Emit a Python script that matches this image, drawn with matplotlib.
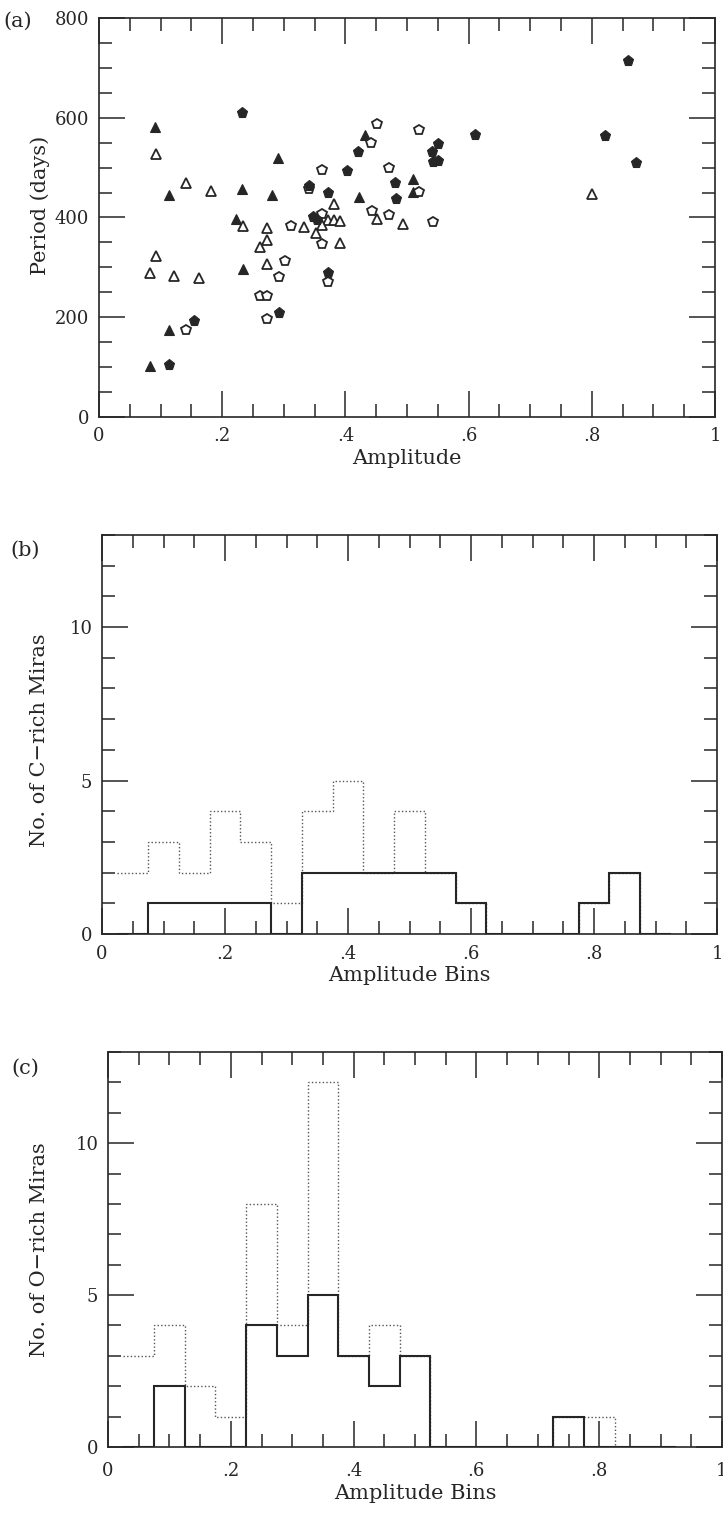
import numpy as np
import matplotlib
matplotlib.use("Agg")
import matplotlib.pyplot as plt
from matplotlib.ticker import MultipleLocator

# ---------------- data ----------------
# Panel (a): amplitude vs period, four classes of stars
ft_amp = [0.091, 0.291, 0.113, 0.232, 0.281, 0.222, 0.233, 0.114, 0.083, 0.510, 0.422, 0.432, 0.510]
ft_per = [581, 519, 445, 458, 445, 396, 297, 174, 102, 478, 442, 565, 452]

ot_amp = [0.092, 0.142, 0.182, 0.233, 0.272, 0.332, 0.272, 0.262, 0.093, 0.083, 0.122, 0.163,
          0.272, 0.382, 0.371, 0.382, 0.392, 0.362, 0.352, 0.392, 0.452, 0.493, 0.801]
ot_per = [527, 469, 453, 383, 378, 380, 354, 340, 323, 289, 283, 279,
          306, 427, 395, 395, 393, 385, 368, 348, 396, 387, 447]

op_amp = [0.312, 0.302, 0.292, 0.262, 0.273, 0.272, 0.142, 0.362, 0.470, 0.362, 0.362, 0.443,
          0.471, 0.372, 0.451, 0.441, 0.520, 0.520, 0.542, 0.341]
op_per = [383, 313, 280, 243, 243, 196, 174, 495, 499, 408, 346, 413,
          406, 271, 588, 550, 575, 452, 390, 458]

fp_amp = [0.232, 0.292, 0.154, 0.114, 0.421, 0.402, 0.341, 0.481, 0.372, 0.482, 0.348, 0.354,
          0.372, 0.610, 0.551, 0.541, 0.542, 0.551, 0.859, 0.821, 0.871]
fp_per = [609, 209, 192, 104, 531, 493, 464, 469, 449, 437, 400, 394,
          289, 565, 547, 531, 512, 513, 714, 563, 509]

# Panels (b), (c): histograms, bins of width 0.05 centred on these amplitudes
bin_centers = [0.05, 0.10, 0.15, 0.20, 0.25, 0.30, 0.35, 0.40, 0.45,
               0.50, 0.55, 0.60, 0.65, 0.70, 0.75, 0.80, 0.85, 0.90]
c_all   = [2, 3, 2, 4, 3, 1, 4, 5, 2, 4, 2, 1, 0, 0, 0, 1, 2, 0]
c_sub   = [0, 1, 1, 1, 1, 0, 2, 2, 2, 2, 2, 1, 0, 0, 0, 1, 2, 0]
o_all   = [3, 4, 2, 1, 8, 4, 12, 3, 4, 3, 0, 0, 0, 0, 1, 1, 0, 0]
o_sub   = [0, 2, 0, 0, 4, 3, 5, 3, 2, 3, 0, 0, 0, 0, 1, 0, 0, 0]

x_ticks = [0, 0.2, 0.4, 0.6, 0.8, 1.0]
x_ticklabels = ["0", ".2", ".4", ".6", ".8", "1"]

# ---------------- style ----------------
W, H = 723, 1514
DPI = 100
INK = "#262626"
FONT = "DejaVu Serif"
plt.rcParams["font.family"] = FONT

fig = plt.figure(figsize=(W / DPI, H / DPI), dpi=DPI)
fig.patch.set_facecolor("white")


def px_axes(left, right, top, bottom):
    return fig.add_axes([left / W, 1 - bottom / H, (right - left) / W, (bottom - top) / H])


def style(ax, ymaj, ymin, xpad=7):
    ax.set_xlim(0, 1)
    ax.xaxis.set_minor_locator(MultipleLocator(0.05))
    ax.yaxis.set_major_locator(MultipleLocator(ymaj))
    ax.yaxis.set_minor_locator(MultipleLocator(ymin))
    ax.set_xticks(x_ticks)
    ax.set_xticklabels(x_ticklabels)
    ax.tick_params(which="both", direction="in", top=True, right=True, color=INK,
                   width=1.1, labelcolor=INK, labelsize=13)
    ax.tick_params(which="major", length=18.5, pad=7)
    ax.tick_params(axis="x", which="major", pad=xpad)
    ax.tick_params(which="minor", length=9.5)
    for s in ax.spines.values():
        s.set_color(INK)
        s.set_linewidth(1.2)


# ---------------- panel (a) ----------------
axa = px_axes(99, 715, 18, 417)
axa.set_ylim(0, 800)
style(axa, 200, 50)
axa.plot(ft_amp, ft_per, ls="none", marker="^", ms=6.5, mfc=INK, mec=INK, mew=0.8)
axa.plot(ot_amp, ot_per, ls="none", marker="^", ms=6.5, mfc="white", mec=INK, mew=1.3)
axa.plot(op_amp, op_per, ls="none", marker="p", ms=7.5, mfc="white", mec=INK, mew=1.3)
axa.plot(fp_amp, fp_per, ls="none", marker="p", ms=8, mfc=INK, mec=INK, mew=0.8)

# ---------------- histograms ----------------
edges = [c - 0.025 for c in bin_centers] + [bin_centers[-1] + 0.025]


def hist_panel(ax, all_counts, sub_counts, xpad):
    ax.set_ylim(0, 13)
    style(ax, 5, 1, xpad)
    ax.stairs(all_counts, edges, baseline=None, color="#555555", lw=1.0,
              linestyle=(0, (1, 1.6)))
    ax.stairs(sub_counts, edges, baseline=None, color=INK, lw=1.5)


axb = px_axes(102, 717, 535, 934)
hist_panel(axb, c_all, c_sub, 8)
axc = px_axes(108, 722, 1052, 1447)
hist_panel(axc, o_all, o_sub, 11)

# ---------------- labels ----------------
LBL = 15
def ftext(x, y, s, **kw):
    fig.text(x / W, 1 - y / H, s, color=INK, fontsize=kw.pop("fontsize", LBL), **kw)

axa.set_xlabel("Amplitude", fontsize=LBL, color=INK, labelpad=3)
axb.set_xlabel("Amplitude Bins", fontsize=LBL, color=INK, labelpad=2)
axc.set_xlabel("Amplitude Bins", fontsize=LBL, color=INK, labelpad=3)

ftext(40, 205, "Period (days)", rotation=90, ha="center", va="center")
ftext(40, 740, "No. of C\u2212rich Miras", rotation=90, ha="center", va="center")
ftext(40, 1250, "No. of O\u2212rich Miras", rotation=90, ha="center", va="center")

ftext(18, 21, "(a)", ha="center", va="center")
ftext(25, 550, "(b)", ha="center", va="center")
ftext(25, 1068, "(c)", ha="center", va="center")

fig.savefig("out.png", dpi=DPI, facecolor="white")
